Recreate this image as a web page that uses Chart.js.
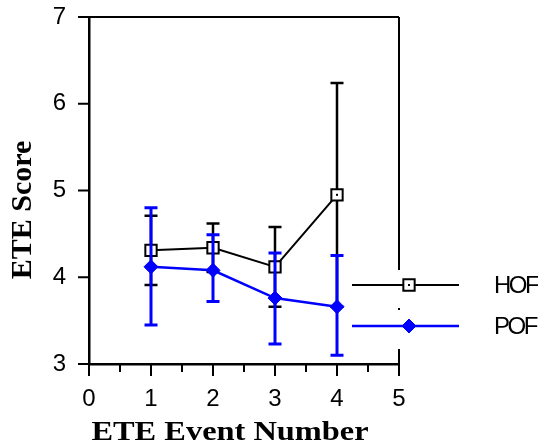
<!DOCTYPE html>
<html>
<head>
<meta charset="utf-8">
<script src="https://cdn.jsdelivr.net/npm/chart.js@4/dist/chart.umd.min.js"></script>
<style>
  body { margin: 0; background: #fff; }
  canvas { display: block; }
</style>
</head>
<body>
<canvas id="eteChart" width="538" height="448"></canvas>
<script>
const events = [1, 2, 3, 4];
const hofMean = [4.31, 4.34, 4.12, 4.95];
const hofUpper = [4.71, 4.62, 4.58, 6.24];
const hofLower = [3.91, 4.06, 3.66, 3.66];
const pofMean = [4.12, 4.08, 3.76, 3.66];
const pofUpper = [4.80, 4.49, 4.28, 4.25];
const pofLower = [3.45, 3.72, 3.23, 3.10];
const xTicks = [0, 1, 2, 3, 4, 5];
const yTicks = [3, 4, 5, 6, 7];

const BLUE = "#0000ff";
const TICK_FONT = "'Liberation Sans', Arial, sans-serif";
const TITLE_FONT = "'Liberation Serif', 'Times New Roman', serif";

function pts(ys) {
  return events.map(function (x, i) { return { x: x, y: ys[i] }; });
}

// error bars drawn just before each dataset, so later series sit on top
const errorBars = {
  id: "errorBars",
  beforeDatasetDraw: function (chart, args) {
    const ds = chart.data.datasets[args.index];
    if (!ds.upper) return;
    const ctx = chart.ctx, xs = chart.scales.x, ys = chart.scales.y;
    ctx.save();
    ctx.strokeStyle = ds.borderColor;
    ctx.lineWidth = ds.errWidth;
    ctx.lineCap = "butt";
    events.forEach(function (ev, i) {
      const px = xs.getPixelForValue(ev);
      const top = ys.getPixelForValue(ds.upper[i]);
      const bot = ys.getPixelForValue(ds.lower[i]);
      ctx.beginPath();
      ctx.moveTo(px, top); ctx.lineTo(px, bot);
      ctx.moveTo(px - 6.5, top); ctx.lineTo(px + 6.5, top);
      ctx.moveTo(px - 6.5, bot); ctx.lineTo(px + 6.5, bot);
      ctx.stroke();
    });
    ctx.restore();
  },
  afterDatasetDraw: function (chart, args) {
    const ds = chart.data.datasets[args.index];
    if (!ds.centerDot) return;
    const ctx = chart.ctx;
    ctx.save();
    ctx.fillStyle = "#000";
    args.meta.data.forEach(function (p) { ctx.fillRect(p.x - 1, p.y - 1, 2, 2); });
    ctx.restore();
  }
};

// frame, tick marks, axis titles and the legend
const frame = {
  id: "frame",
  afterDraw: function (chart) {
    const ctx = chart.ctx, a = chart.chartArea;
    const xs = chart.scales.x, ys = chart.scales.y;
    ctx.save();
    ctx.strokeStyle = "#000";

    // tick marks
    ctx.lineWidth = 2;
    ctx.beginPath();
    yTicks.forEach(function (v) {
      const py = ys.getPixelForValue(v);
      ctx.moveTo(a.left - 11, py); ctx.lineTo(a.left, py);
    });
    for (let v = 0; v <= 5; v += 0.5) {
      const px = xs.getPixelForValue(v);
      ctx.moveTo(px, a.bottom); ctx.lineTo(px, a.bottom + (v % 1 === 0 ? 12 : 8));
    }
    ctx.stroke();

    // top and right frame, right side broken by the legend
    const legTop = a.bottom - 94, legBot = a.bottom - 15;
    ctx.lineWidth = 2;
    ctx.beginPath();
    ctx.moveTo(a.left, a.top); ctx.lineTo(a.right, a.top);
    ctx.moveTo(a.right, a.top); ctx.lineTo(a.right, legTop);
    ctx.moveTo(a.right, legBot); ctx.lineTo(a.right, a.bottom);
    ctx.stroke();
    ctx.fillStyle = "#000";
    ctx.fillRect(a.right - 1, a.bottom - 56, 2, 2);

    // axis titles
    ctx.textAlign = "center";
    ctx.textBaseline = "alphabetic";
    ctx.save();
    ctx.font = "bold 27px " + TITLE_FONT;
    ctx.translate(230, 440);
    ctx.scale(1.2, 1);
    ctx.fillText("ETE Event Number", 0, 0);
    ctx.restore();
    ctx.save();
    ctx.font = "bold 30px " + TITLE_FONT;
    ctx.translate(31, 210);
    ctx.rotate(-Math.PI / 2);
    ctx.fillText("ETE Score", 0, 0);
    ctx.restore();
    ctx.restore();

    // legend
    const rows = [
      { label: "HOF", ds: chart.data.datasets[0], y: a.bottom - 79 },
      { label: "POF", ds: chart.data.datasets[1], y: a.bottom - 38 }
    ];
    rows.forEach(function (r) {
      ctx.save();
      ctx.strokeStyle = r.ds.borderColor;
      ctx.lineWidth = r.ds.borderWidth;
      ctx.beginPath();
      ctx.moveTo(a.right - 47, r.y); ctx.lineTo(a.right + 60, r.y);
      ctx.stroke();
      ctx.fillStyle = r.ds.pointBackgroundColor;
      ctx.strokeStyle = r.ds.borderColor;
      ctx.lineWidth = r.ds.pointBorderWidth;
      Chart.helpers.drawPoint(ctx, {
        pointStyle: r.ds.pointStyle,
        radius: r.ds.pointRadius,
        borderWidth: r.ds.pointBorderWidth,
        rotation: 0
      }, a.right + 10, r.y);
      if (r.ds.centerDot) {
        ctx.fillStyle = "#000";
        ctx.fillRect(a.right + 9, r.y - 1, 2, 2);
      }
      ctx.fillStyle = "#000";
      ctx.font = "24px " + TICK_FONT;
      ctx.letterSpacing = "-2.5px";
      ctx.textAlign = "left";
      ctx.textBaseline = "middle";
      ctx.fillText(r.label, a.right + 95, r.y + 1);
      ctx.restore();
    });
  }
};

new Chart(document.getElementById("eteChart"), {
  type: "line",
  data: {
    datasets: [
      {
        label: "HOF",
        data: pts(hofMean),
        upper: hofUpper,
        lower: hofLower,
        errWidth: 2.5,
        centerDot: true,
        borderColor: "#000",
        borderWidth: 2,
        pointStyle: "rect",
        pointRadius: 8,
        pointBorderWidth: 2,
        pointBackgroundColor: "#fff",
        tension: 0,
        order: 2
      },
      {
        label: "POF",
        data: pts(pofMean),
        upper: pofUpper,
        lower: pofLower,
        errWidth: 3,
        borderColor: BLUE,
        borderWidth: 2.5,
        pointStyle: "rectRot",
        pointRadius: 7,
        pointBorderWidth: 1,
        pointBackgroundColor: BLUE,
        tension: 0,
        order: 1
      }
    ]
  },
  options: {
    responsive: false,
    animation: false,
    layout: { padding: { top: 17, right: 139, left: 0, bottom: 0 } },
    plugins: { legend: { display: false }, tooltip: { enabled: false } },
    scales: {
      x: {
        type: "linear",
        min: 0,
        max: 5,
        afterFit: function (s) { s.height = 84; s.paddingLeft = 0; s.paddingRight = 0; },
        afterBuildTicks: function (s) { s.ticks = xTicks.map(function (v) { return { value: v }; }); },
        grid: { display: false, drawTicks: false },
        border: { display: true, color: "#000", width: 2.5 },
        ticks: { color: "#000", padding: 21, font: { family: TICK_FONT, size: 24 } }
      },
      y: {
        min: 3,
        max: 7,
        afterFit: function (s) { s.width = 89; s.paddingTop = 0; s.paddingBottom = 0; },
        afterBuildTicks: function (s) { s.ticks = yTicks.map(function (v) { return { value: v }; }); },
        grid: { display: false, drawTicks: false },
        border: { display: true, color: "#000", width: 2.5 },
        ticks: { color: "#000", padding: 23, font: { family: TICK_FONT, size: 24 } }
      }
    }
  },
  plugins: [errorBars, frame]
});
</script>
</body>
</html>
